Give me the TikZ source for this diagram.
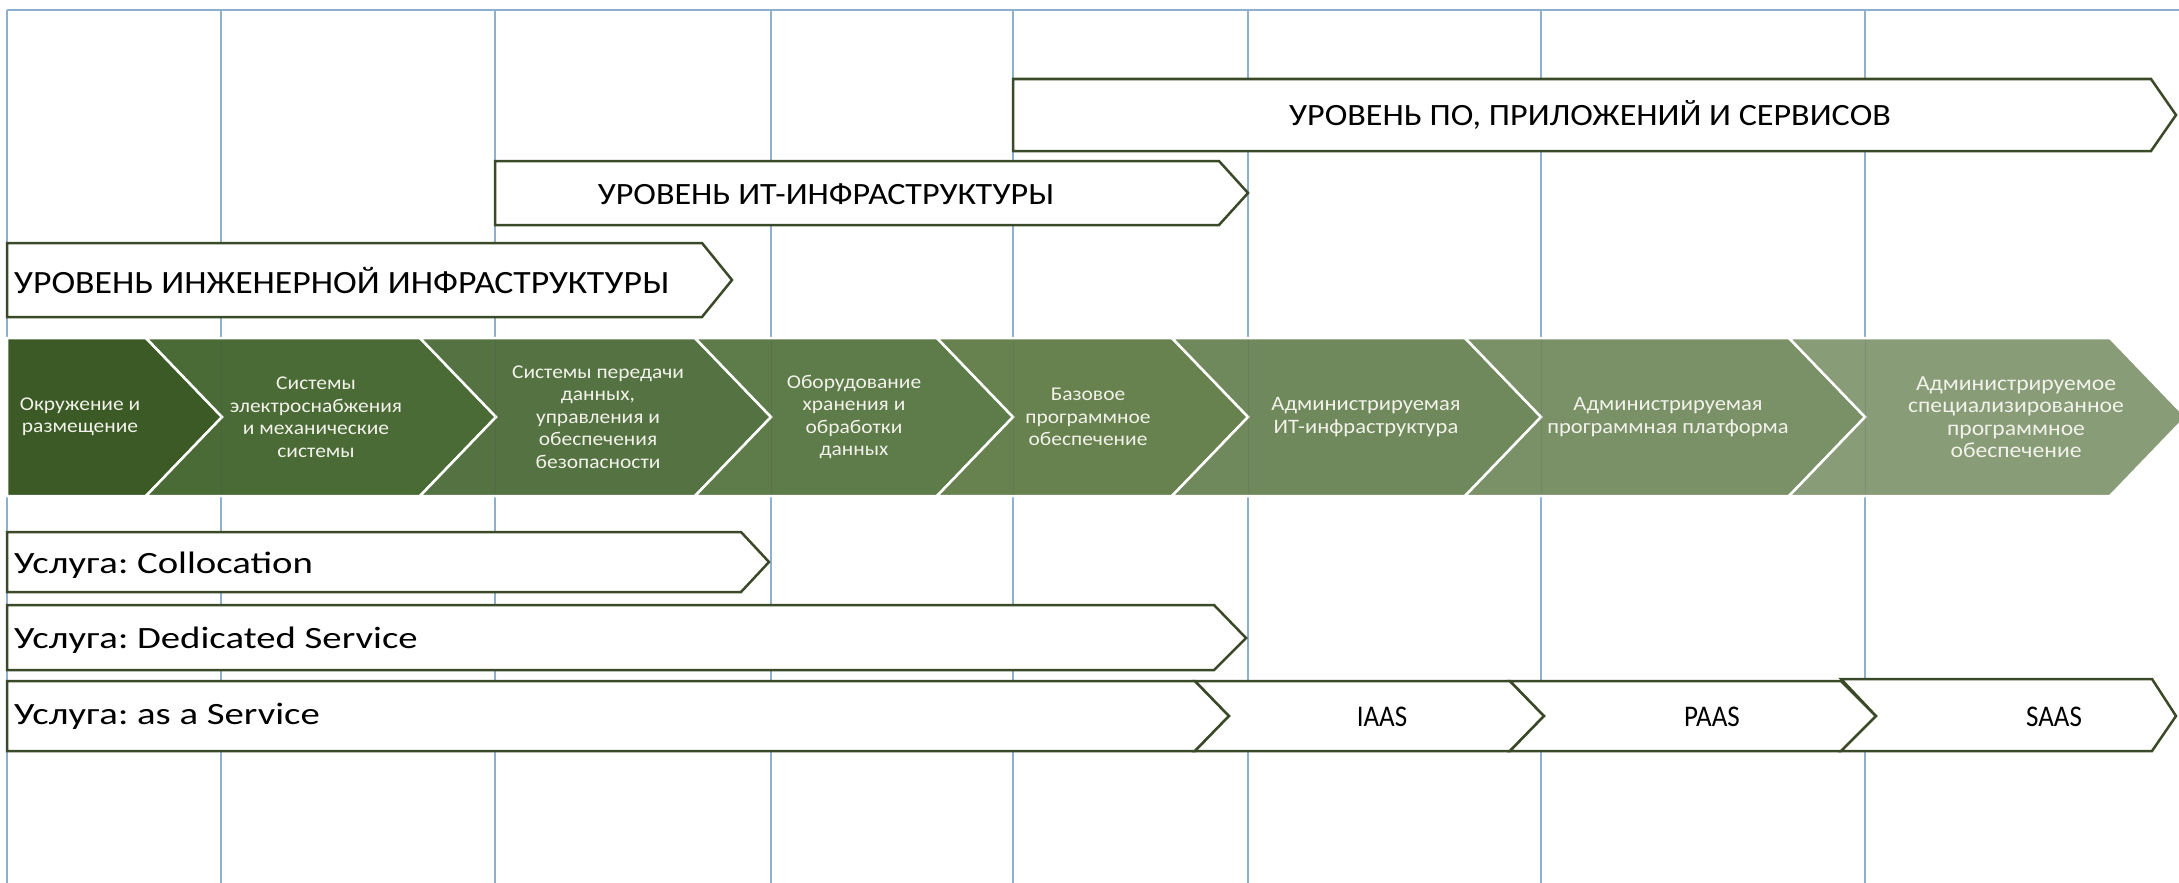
\documentclass[tikz,border=0pt]{standalone}
\usepackage{fontspec}
\setmainfont{Carlito}[FakeStretch=1.1]
\newfontfamily\svcfont{Carlito}[FakeStretch=1.25]
\newfontfamily\aasfont{Carlito}[FakeStretch=0.9]
\frenchspacing
\definecolor{gridblue}{HTML}{8FB0CC}
\definecolor{bannerline}{HTML}{3A4A28}
\definecolor{cA}{HTML}{3B5A25}
\definecolor{cB}{HTML}{4A6A36}
\definecolor{cC}{HTML}{557242}
\definecolor{cD}{HTML}{5E7B4A}
\definecolor{cE}{HTML}{67824F}
\definecolor{cF}{HTML}{6F895C}
\definecolor{cG}{HTML}{7A9168}
\definecolor{cH}{HTML}{889C77}
\definecolor{segtextcol}{HTML}{F2F2EA}
\tikzset{
  gridline/.style={draw=gridblue, line width=1.2pt},
  banner/.style={draw=bannerline, fill=white, line width=2.5pt, line join=miter},
  seg/.style={draw=white, line width=2.5pt, line join=miter},
  lvltext/.style={font=\fontsize{31}{36}\selectfont, text=black, inner sep=0pt},
  svctext/.style={font=\svcfont\fontsize{31}{36}\selectfont, text=black, inner sep=0pt},
  aastext/.style={font=\aasfont\fontsize{30}{34}\selectfont, text=black, inner sep=0pt},
  segtext/.style={font=\fontsize{19.5}{22.5}\selectfont, text=segtextcol, align=center, inner sep=0pt},
}
\begin{document}
\begin{tikzpicture}[x=1pt,y=-1pt]
\useasboundingbox (0,0) rectangle (2179,883);
\fill[white] (0,0) rectangle (2179,883);
% grid
\draw[gridline, line width=2pt] (7,10) -- (2179,10);
\foreach \gx in {7,221,495,771,1013,1248,1541,1865}
  \draw[gridline] (\gx,10) -- (\gx,883);
% level banners
\draw[banner] (1013,79) -- (2151,79) -- (2176,115) -- (2151,151) -- (1013,151) -- cycle;
\node[lvltext] (lvlsw) at (1590,115) {УРОВЕНЬ ПО, ПРИЛОЖЕНИЙ И СЕРВИСОВ};
\draw[banner] (495,161) -- (1219,161) -- (1248,193) -- (1219,225) -- (495,225) -- cycle;
\node[lvltext] (lvlit) at (826,194) {УРОВЕНЬ ИТ-ИНФРАСТРУКТУРЫ};
\draw[banner] (7,243) -- (702,243) -- (732,280) -- (702,317) -- (7,317) -- cycle;
\node[lvltext, font=\fontsize{32.5}{36}\selectfont, anchor=west] (lvleng) at (14,281) {УРОВЕНЬ ИНЖЕНЕРНОЙ ИНФРАСТРУКТУРЫ};
% green chevron band
\filldraw[seg, fill=cA] (7,338) -- (146,338) -- (222,417) -- (146,496) -- (7,496) -- cycle;
\filldraw[seg, fill=cB] (146,338) -- (420,338) -- (496,417) -- (420,496) -- (146,496) -- (222,417) -- cycle;
\filldraw[seg, fill=cC] (420,338) -- (695,338) -- (771,417) -- (695,496) -- (420,496) -- (496,417) -- cycle;
\filldraw[seg, fill=cD] (695,338) -- (937,338) -- (1013,417) -- (937,496) -- (695,496) -- (771,417) -- cycle;
\filldraw[seg, fill=cE] (937,338) -- (1172,338) -- (1248,417) -- (1172,496) -- (937,496) -- (1013,417) -- cycle;
\filldraw[seg, fill=cF] (1172,338) -- (1465,338) -- (1541,417) -- (1465,496) -- (1172,496) -- (1248,417) -- cycle;
\filldraw[seg, fill=cG] (1465,338) -- (1789,338) -- (1865,417) -- (1789,496) -- (1465,496) -- (1541,417) -- cycle;
\filldraw[seg, fill=cH] (1789,338) -- (2110,338) -- (2186,417) -- (2110,496) -- (1789,496) -- (1865,417) -- cycle;
% grid lines faintly visible across band
\foreach \gx in {221,495,771,1013,1248,1541,1865}
  \draw[gridblue!40!black, opacity=0.15, line width=1pt] (\gx,340) -- (\gx,494);
\node[segtext] (s1) at (80,417) {Окружение и\\размещение};
\node[segtext] (s2) at (316,417) {Системы\\электроснабжения\\и механические\\системы};
\node[segtext] (s3) at (598,417) {Системы передачи\\данных,\\управления и\\обеспечения\\безопасности};
\node[segtext] (s4) at (854,417) {Оборудование\\хранения и\\обработки\\данных};
\node[segtext] (s5) at (1088,417) {Базовое\\программное\\обеспечение};
\node[segtext, font=\fontsize{20.5}{22.5}\selectfont] (s6) at (1366,417) {Администрируемая\\ИТ-инфраструктура};
\node[segtext, font=\fontsize{20.5}{22.5}\selectfont] (s7) at (1668,417) {Администрируемая\\программная платформа};
\node[segtext, font=\fontsize{21.5}{22.5}\selectfont] (s8) at (2016,417) {Администрируемое\\специализированное\\программное\\обеспечение};
% service rows
\draw[banner] (7,532) -- (741,532) -- (769,562) -- (741,592) -- (7,592) -- cycle;
\node[svctext, anchor=west] (colloc) at (14,565) {Услуга: Collocation};
\draw[banner] (7,605) -- (1214,605) -- (1246,638) -- (1214,670) -- (7,670) -- cycle;
\node[svctext, anchor=west] (dedic) at (14,640) {Услуга: Dedicated Service};
\draw[banner] (7,681) -- (1195,681) -- (1229,716) -- (1195,751) -- (7,751) -- cycle;
\node[svctext, anchor=west] (aas) at (14,716) {Услуга: as a Service};
\draw[banner] (1195,681) -- (1510,681) -- (1544,716) -- (1510,751) -- (1195,751) -- (1229,716) -- cycle;
\node[aastext] (iaas) at (1382,717) {IAAS};
\draw[banner] (1510,681) -- (1841,681) -- (1876,716) -- (1841,751) -- (1510,751) -- (1544,716) -- cycle;
\node[aastext] (paas) at (1712,717) {PAAS};
\draw[banner] (1841,679) -- (2152,679) -- (2176,716) -- (2152,751) -- (1841,751) -- (1876,716) -- cycle;
\node[aastext] (saas) at (2054,717) {SAAS};
\end{tikzpicture}
\end{document}
